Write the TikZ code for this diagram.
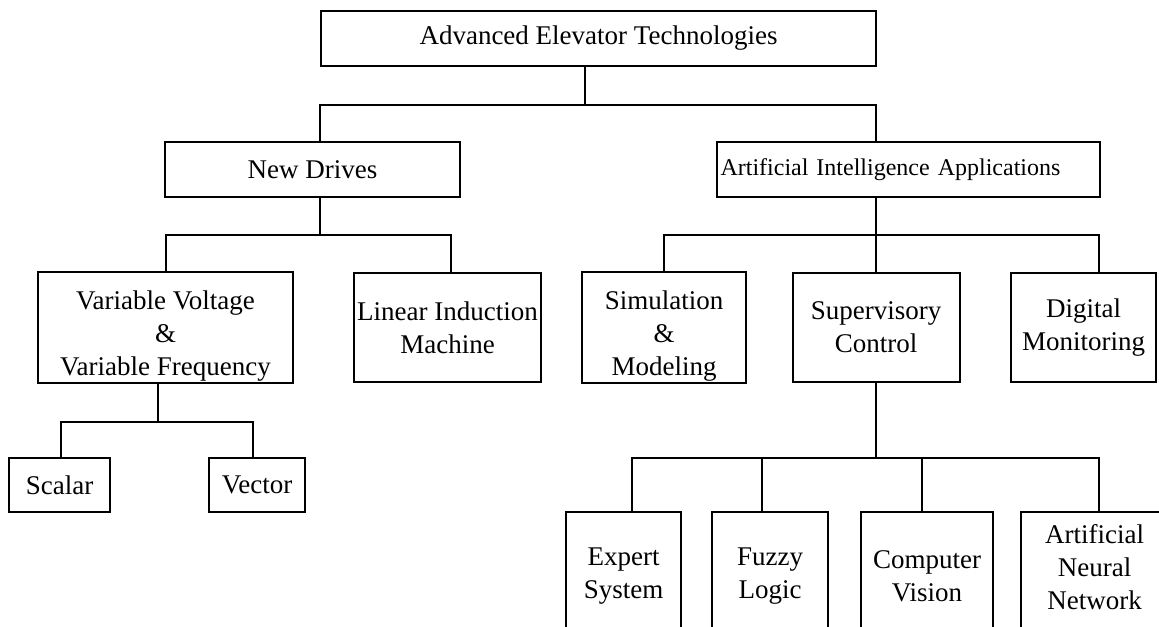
\documentclass[tikz,border=0pt]{standalone}
\usepackage{fontspec}
\setmainfont{Liberation Serif}
\begin{document}
\begin{tikzpicture}[x=0.5pt, y=-0.5pt,
	box/.style={draw=black, line width=1pt, solid, rectangle, inner sep=1pt, align=center,
		font=\fontsize{13.5pt}{16.5pt}\selectfont},
	link/.style={draw=black, line width=1pt, solid}]
	\useasboundingbox (0,0) rectangle (1159,626);
	\fill[white] (0,0) rectangle (1159,626);
	\clip (0,0) rectangle (1159,626);
	% top levels
	\node[box, minimum width=277.5pt, minimum height=27.5pt] (top) at (598.5,38.5) {Advanced Elevator Technologies};
	\node[box, minimum width=147.5pt, minimum height=27.5pt] (nd) at (312.5,169.5) {New Drives};
	\node[box, minimum width=191.5pt, minimum height=27.5pt, inner xsep=0pt, text width=188pt, align=left,
		font=\fontsize{12pt}{15pt}\selectfont] (ai) at (908.5,169.5) {Artificial Intelligence Applications};
	% third level
	\node[box, minimum width=127.5pt, minimum height=54.5pt] (vv) at (165.5,327.5) {\rule{0pt}{17.5pt}Variable Voltage\\\&\\Variable Frequency};
	\node[box, minimum width=93.5pt, minimum height=54.5pt] (lim) at (447.5,327.5) {Linear Induction\\Machine};
	\node[box, minimum width=82pt, minimum height=54.5pt] (sim) at (664,327.5) {\rule{0pt}{17.5pt}Simulation\\\&\\Modeling};
	\node[box, minimum width=83.5pt, minimum height=54.5pt] (sup) at (876,327.5) {Supervisory\\Control};
	\node[box, minimum width=72.5pt, minimum height=54.5pt] (dig) at (1083.5,327.5) {Digital\\Monitoring};
	% drive types
	\node[box, minimum width=50.5pt, minimum height=27pt] (scalar) at (59.5,485) {Scalar};
	\node[box, minimum width=48pt, minimum height=27pt] (vector) at (257,485) {Vector};
	% supervisory techniques
	\node[box, minimum width=57.5pt, minimum height=64pt] (expert) at (623.5,576) {Expert\\System};
	\node[box, minimum width=58pt, minimum height=64pt] (fuzzy) at (770,576) {Fuzzy\\Logic};
	\node[box, minimum width=66pt, minimum height=64pt] (vision) at (927,576) {Computer\\Vision};
	\node[box, minimum width=73.5pt, minimum height=64pt] (ann) at (1094.5,576) {Artificial\\Neural\\Network\rule[-9.5pt]{0pt}{9.5pt}};
	% connectors
	\draw[link] ([xshift=-6.75pt]top.south) -- ++(0,38) coordinate (b1);
	\draw[link] ([xshift=3.75pt]nd.north) |- (b1) -| ([xshift=-16.25pt]ai.north);
	\draw[link] ([xshift=3.75pt]nd.south) -- ++(0,37) coordinate (b2);
	\draw[link] (vv.north) |- (b2) -| ([xshift=1.75pt]lim.north);
	\draw[link] ([xshift=-16.25pt]ai.south) -- ++(0,37) coordinate (b3);
	\draw[link] (sim.north) |- (b3) -| ([xshift=7.5pt]dig.north);
	\draw[link] (b3) -- (sup.north);
	\draw[link] ([xshift=-4pt]vv.south) -- ++(0,38) coordinate (b4);
	\draw[link] ([xshift=0.75pt]scalar.north) |- (b4) -| ([xshift=-2pt]vector.north);
	\draw[link] (sup.south) -- ++(0,75) coordinate (b5);
	\draw[link] ([xshift=4pt]expert.north) |- (b5) -| ([xshift=2pt]ann.north);
	\draw[link] ([xshift=-4pt]fuzzy.north) |- (b5);
	\draw[link] ([xshift=-2.5pt]vision.north) |- (b5);
\end{tikzpicture}
\end{document}
